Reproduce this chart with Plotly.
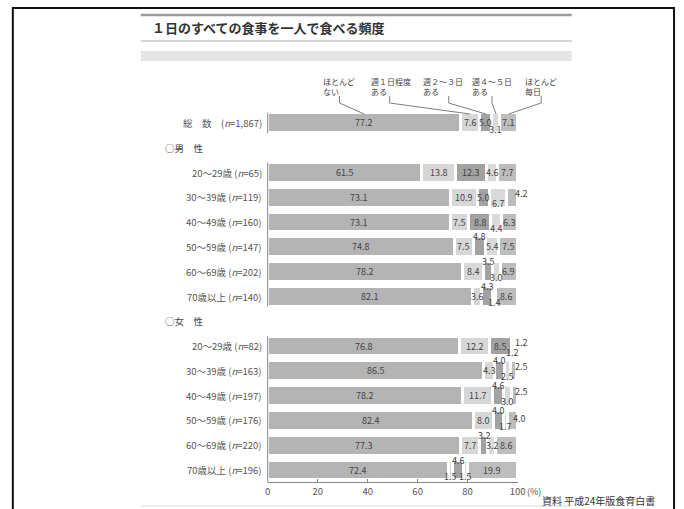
import plotly.graph_objects as go

# ---------------- data ----------------
title = "１日のすべての食事を一人で食べる頻度"
source = "資料 平成24年版食育白書"
segments = ["ほとんど<br>ない", "週１日程度<br>ある", "週２～３日<br>ある", "週４～５日<br>ある", "ほとんど<br>毎日"]

row_labels = [
    "総　数　(<i>n</i>=1,867)",
    "",
    "20～29歳 (<i>n</i>=65)", "30～39歳 (<i>n</i>=119)", "40～49歳 (<i>n</i>=160)",
    "50～59歳 (<i>n</i>=147)", "60～69歳 (<i>n</i>=202)", "70歳以上 (<i>n</i>=140)",
    "",
    "20～29歳 (<i>n</i>=82)", "30～39歳 (<i>n</i>=163)", "40～49歳 (<i>n</i>=197)",
    "50～59歳 (<i>n</i>=176)", "60～69歳 (<i>n</i>=220)", "70歳以上 (<i>n</i>=196)",
]
group_headers = {1: "○男　性", 8: "○女　性"}

hotondo_nai = [77.2, None, 61.5, 73.1, 73.1, 74.8, 78.2, 82.1, None, 76.8, 86.5, 78.2, 82.4, 77.3, 72.4]
shu1        = [7.6,  None, 13.8, 10.9, 7.5,  7.5,  8.4,  3.6,  None, 12.2, 4.3,  11.7, 8.0,  7.7,  1.5]
shu2_3      = [5.0,  None, 12.3, 5.0,  8.8,  4.8,  3.5,  4.3,  None, 8.5,  4.0,  4.6,  4.0,  3.2,  4.6]
shu4_5      = [3.1,  None, 4.6,  6.7,  4.4,  5.4,  3.0,  1.4,  None, 1.2,  2.5,  3.0,  1.7,  3.2,  1.5]
mainichi    = [7.1,  None, 7.7,  4.2,  6.3,  7.5,  6.9,  8.6,  None, 1.2,  2.5,  2.5,  4.0,  8.6,  19.9]
series = [hotondo_nai, shu1, shu2_3, shu4_5, mainichi]

# ---------------- style ----------------
colors = ["#b4b4b4", "#d7d7d7", "#a2a2a2", "#dadada", "#bdbdbd"]
# label placement per row: c=centre, a=above, b=below, e=at bar end
placement = {
    0: "cccbc", 2: "ccccc", 3: "cccbe", 4: "cccbc", 5: "ccacc", 6: "ccabc", 7: "ccabc",
    9: "cccbe", 10: "ccabe", 11: "ccabe", 12: "ccabr", 13: "ccacc", 14: "cbabc",
}
FONT = "Noto Sans CJK JP"
W, H = 684, 509
X0_PX, X1_PX = 269, 523
Y0_PX, DY = 123, 24.79
BAR_W = 0.8

def xpx(v):
    return X0_PX + (X1_PX - X0_PX) * v / 100.0

def xp(px):
    return px / W

def yp(px):
    return 1 - px / H

def ypx(slot):
    return Y0_PX + DY * slot

n = len(row_labels)
slots = list(range(n))

fig = go.Figure()
for name, vals, col in zip(segments, series, colors):
    fig.add_trace(go.Bar(
        y=slots, x=vals, orientation="h", name=name.replace("<br>", ""),
        marker=dict(color=col, line=dict(color="white", width=3)),
        width=BAR_W, hoverinfo="skip", textposition="none",
    ))

annotations = []
shapes = []

# data labels
for r in slots:
    if r not in placement:
        continue
    cum = 0.0
    for k, vals in enumerate(series):
        v = vals[r]
        centre = cum + v / 2.0
        cum += v
        mode = placement[r][k]
        ypos = ypx(r)
        xpos = xpx(centre)
        if mode == "a":
            ypos -= 10
        elif mode == "b":
            ypos += 6
        elif mode == "e":
            xpos = xpx(101.6)
            ypos -= 4
        elif mode == "r":
            xpos = xpx(100.8)
            ypos -= 2
        annotations.append(dict(
            x=xp(xpos), y=yp(ypos), xref="paper", yref="paper", text=f"{v:.1f}",
            showarrow=False, xanchor="center", yanchor="middle",
            font=dict(family=FONT, size=9, color="#444444"),
        ))

# row labels
for r, lab in enumerate(row_labels):
    if lab:
        annotations.append(dict(
            x=xp(265), y=yp(ypx(r)), xref="paper", yref="paper", text=lab,
            showarrow=False, xanchor="right", yanchor="middle",
            font=dict(family=FONT, size=9.5, color="#555555"),
        ))
for r, lab in group_headers.items():
    annotations.append(dict(
        x=xp(163), y=yp(ypx(r)), xref="paper", yref="paper", text=lab,
        showarrow=False, xanchor="left", yanchor="middle",
        font=dict(family=FONT, size=9.5, color="#444444"),
    ))

# legend callouts
label_left_px = [323, 372, 425, 475, 528]
drop_px = [342, 393, 453, 497, 547]
cum = 0.0
for k, vals in enumerate(series):
    v = vals[0]
    centre = cum + v / 2.0
    cum += v
    annotations.append(dict(
        x=xp(label_left_px[k]), y=yp(74), xref="paper", yref="paper", text=segments[k],
        showarrow=False, xanchor="left", yanchor="top", align="left",
        font=dict(family=FONT, size=8, color="#444444"),
    ))
    shapes.append(dict(
        type="path", xref="paper", yref="paper",
        path=f"M {xp(drop_px[k])},{yp(96)} L {xp(drop_px[k])},{yp(103)} L {xp(xpx(centre))},{yp(114)}",
        line=dict(color="#808080", width=1),
    ))

# title / source / (%)
annotations.append(dict(
    x=xp(149), y=yp(28), xref="paper", yref="paper", text="<b>" + title + "</b>",
    showarrow=False, xanchor="left", yanchor="middle",
    font=dict(family=FONT, size=13, color="#333333"),
))
annotations.append(dict(
    x=xp(665), y=yp(500), xref="paper", yref="paper", text=source,
    showarrow=False, xanchor="right", yanchor="middle",
    font=dict(family=FONT, size=10, color="#333333"),
))
annotations.append(dict(
    x=xp(531), y=yp(491), xref="paper", yref="paper", text="(%)",
    showarrow=False, xanchor="left", yanchor="middle",
    font=dict(family=FONT, size=9, color="#555555"),
))

# decorative lines & frame
shapes += [
    dict(type="rect", xref="paper", yref="paper", x0=xp(10), x1=xp(682), y0=yp(8), y1=-0.05,
         line=dict(color="#111111", width=2), fillcolor="rgba(0,0,0,0)"),
    dict(type="line", xref="paper", yref="paper", x0=xp(140), x1=xp(578), y0=yp(15), y1=yp(15),
         line=dict(color="#9a9a9a", width=2.5)),
    dict(type="line", xref="paper", yref="paper", x0=xp(140), x1=xp(578), y0=yp(41), y1=yp(41),
         line=dict(color="#c8c8c8", width=1.5)),
    dict(type="rect", xref="paper", yref="paper", x0=xp(140), x1=xp(578), y0=yp(51), y1=yp(61),
         line=dict(width=0), fillcolor="#e6e6e6"),
    dict(type="line", xref="paper", yref="paper", x0=xp(140), x1=xp(578), y0=yp(506), y1=yp(506),
         line=dict(color="#e6e6e6", width=1.5)),
]
# vertical axis segments per block
half = BAR_W / 2 * DY
blocks = [(0, 0), (2, 7), (9, 14)]
for a, b in blocks:
    y_top = ypx(a) - half
    y_bot = ypx(b) + half if b != 14 else ypx(14) + DY / 2
    shapes.append(dict(type="line", xref="paper", yref="paper", x0=xp(X0_PX), x1=xp(X0_PX),
                       y0=yp(y_top), y1=yp(y_bot), line=dict(color="#888888", width=1)))

y_dom_top = yp(ypx(-0.5))
y_dom_bot = yp(ypx(n - 0.5))

fig.update_layout(
    width=W, height=H, margin=dict(l=0, r=0, t=0, b=0),
    paper_bgcolor="white", plot_bgcolor="white",
    barmode="stack", bargap=0, showlegend=False,
    xaxis=dict(domain=[xp(X0_PX), xp(X1_PX)], range=[0, 100], tickvals=[0, 20, 40, 60, 80, 100],
               ticktext=["0", "20", "40", "60", "80", "100"], showgrid=False, zeroline=False,
               showline=True, linecolor="#888888", linewidth=1, ticks="inside", ticklen=3,
               tickcolor="#888888", tickfont=dict(family=FONT, size=9.5, color="#555555")),
    yaxis=dict(domain=[y_dom_bot, y_dom_top], range=[n - 0.5, -0.5], showgrid=False,
               zeroline=False, showticklabels=False, showline=False, ticks=""),
    annotations=annotations, shapes=shapes,
)

fig.write_html("out.html")
